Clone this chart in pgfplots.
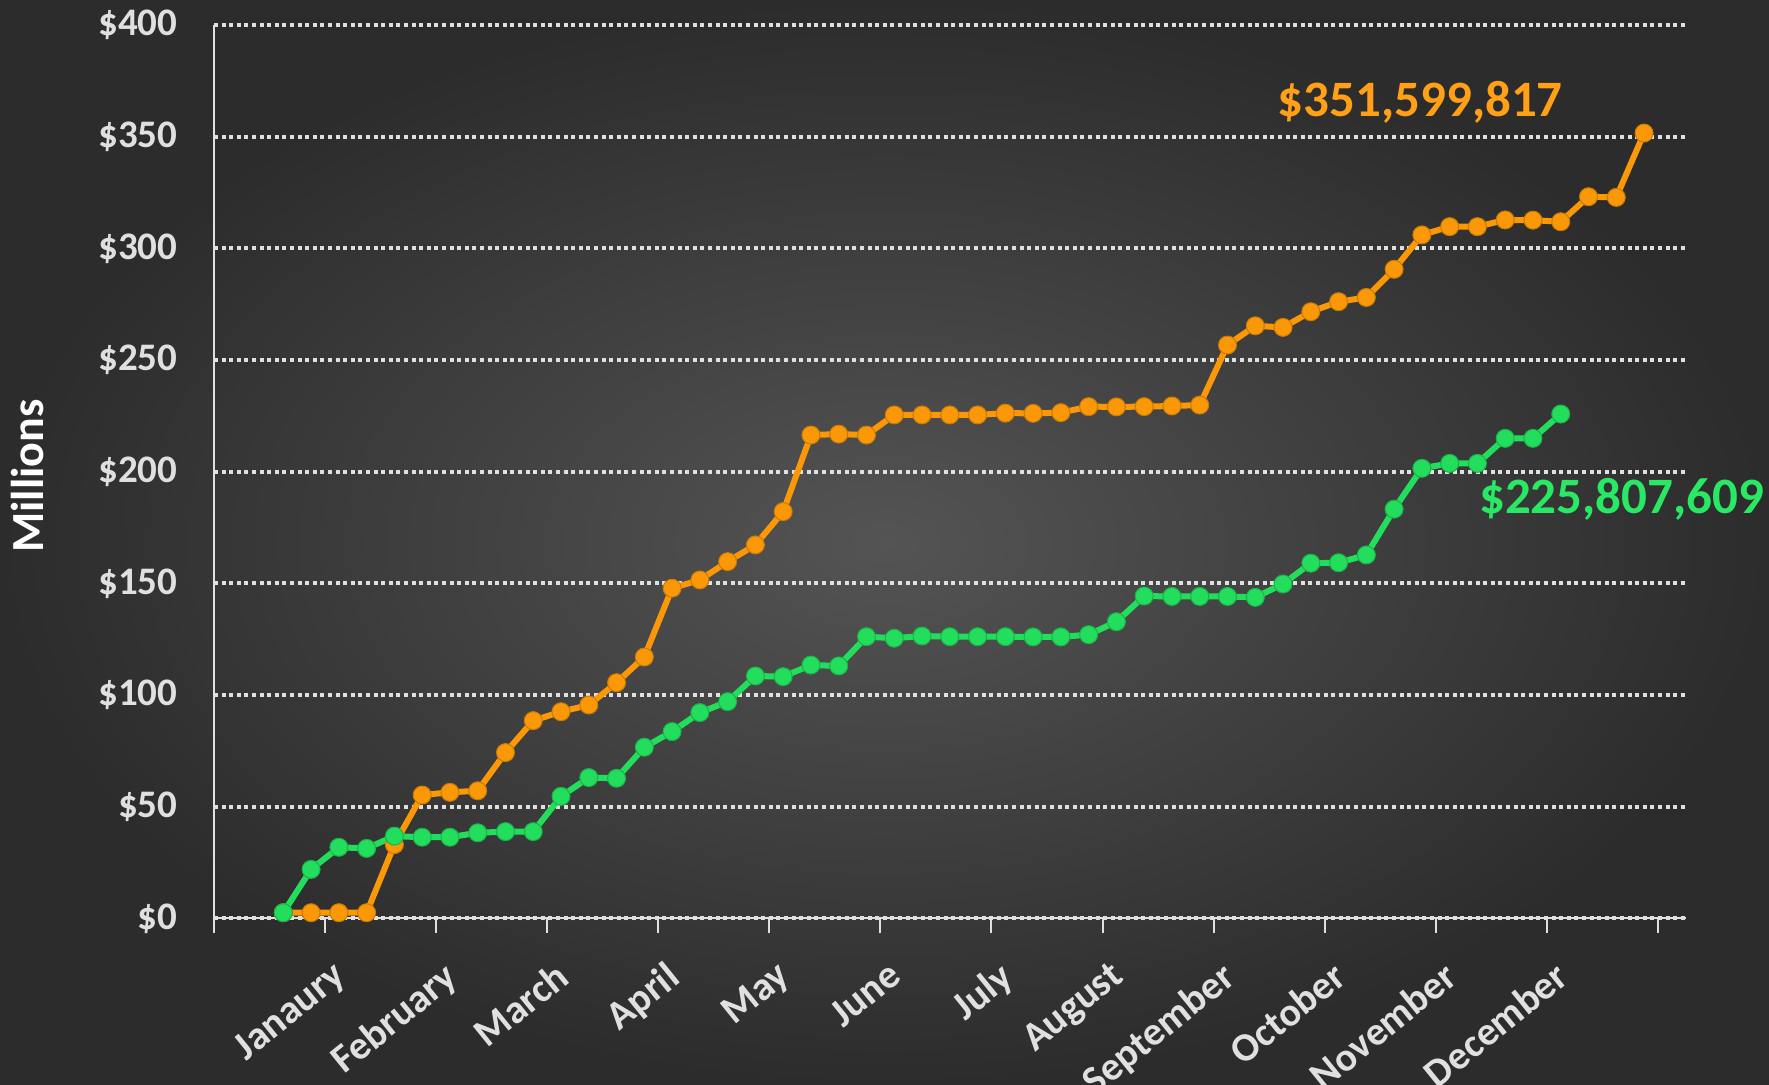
\documentclass[border=0pt]{standalone}
\usepackage{pgfplots}
\pgfplotsset{compat=1.18}
\usepackage{fontspec}
\setmainfont{Carlito}
\definecolor{orangeC}{RGB}{250,152,8}
\definecolor{orangeL}{RGB}{255,160,22}
\definecolor{greenC}{RGB}{34,222,92}
\definecolor{greenL}{RGB}{40,232,100}
\definecolor{tickC}{RGB}{224,224,224}
\definecolor{bgIn}{RGB}{84,84,84}
\definecolor{bgOut}{RGB}{44,44,44}
\begin{document}
\begin{tikzpicture}
\useasboundingbox (0,0) rectangle (884.5pt,542.5pt);
\shade[inner color=bgIn, outer color=bgOut] (0,0) rectangle (884.5pt,542.5pt);
\node[rotate=90, font=\bfseries\fontsize{23}{25}\selectfont, text=white] at (14pt,304.5pt) {Millions};
\begin{axis}[
  at={(106.95pt,83.35pt)}, anchor=south west,
  scale only axis, width=735.9pt, height=446.65pt,
  xmin=-2.5, xmax=50.5, ymin=0, ymax=400,
  clip=false,
  axis x line*=bottom, axis y line*=left,
  axis line style={tickC, line width=1pt},
  xtick={-2.5,1.5,5.5,9.5,13.5,17.5,21.5,25.5,29.5,33.5,37.5,41.5,45.5,49.5},
  xticklabels={,Janaury,February,March,April,May,June,July,August,September,October,November,December,},
  xticklabel style={xshift=3pt, yshift=-13pt, rotate=39, anchor=north east, inner sep=0pt, text=tickC, font=\bfseries\fontsize{20}{21}\selectfont},
  ytick={0,50,100,150,200,250,300,350,400},
  yticklabels={\$0,\$50,\$100,\$150,\$200,\$250,\$300,\$350,\$400},
  yticklabel style={xshift=-10.5pt, anchor=east, inner sep=0pt, text=tickC, font=\bfseries\fontsize{19.5}{21}\selectfont},
  tick align=outside,
  major tick length=7.5pt,
  xtick style={tickC, line width=1pt},
  ytick style={draw=none},
  ymajorgrids,
  grid style={draw=tickC, line width=2.1pt, dash pattern=on 2pt off 1.8pt},
]
\addplot[orangeC, line width=3pt, line join=round, mark=*, mark size=4.5pt, mark options={fill=orangeC, draw=orangeC!80!black, line width=0.5pt}] coordinates {
(0,2.5) (1,2.5) (2,2.5) (3,2.5) (4,33) (5,55.2) (6,56.4) (7,57.1) (8,74.2) (9,88.5)
(10,92.5) (11,95.5) (12,105.5) (13,117) (14,147.8) (15,151.5) (16,159.7) (17,167.2) (18,182.1) (19,216.4)
(20,216.8) (21,216.4) (22,225.4) (23,225.4) (24,225.4) (25,225.4) (26,226.2) (27,226.1) (28,226.4) (29,229.1)
(30,229.0) (31,229.1) (32,229.4) (33,229.8) (34,256.7) (35,265.3) (36,264.6) (37,271.6) (38,276.1) (39,278.0)
(40,290.6) (41,306.0) (42,309.7) (43,309.7) (44,312.7) (45,312.6) (46,311.9) (47,323.1) (48,322.8) (49,351.6)
};
\addplot[greenC, line width=3pt, line join=round, mark=*, mark size=4.5pt, mark options={fill=greenC, draw=greenC!80!black, line width=0.5pt}] coordinates {
(0,2.5) (1,21.9) (2,31.8) (3,31.3) (4,36.8) (5,36.3) (6,36.3) (7,38.3) (8,38.8) (9,38.8)
(10,54.6) (11,63.0) (12,62.7) (13,76.6) (14,83.6) (15,92.1) (16,97.0) (17,108.5) (18,108.2) (19,113.4)
(20,113.0) (21,126.1) (22,125.4) (23,126.4) (24,126.1) (25,126.1) (26,126.1) (27,126.0) (28,126.0) (29,127.0)
(30,132.8) (31,144.3) (32,144.1) (33,144.1) (34,144.1) (35,143.7) (36,149.7) (37,159.0) (38,159.2) (39,162.7)
(40,183.2) (41,201.5) (42,203.7) (43,203.7) (44,214.9) (45,214.9) (46,225.8)
};
\node[anchor=base west, inner sep=0pt, text=orangeL, font=\bfseries\fontsize{25.5}{27}\selectfont] at (axis cs:35.8,358.9) {\$351,599,817};
\node[anchor=base west, inner sep=0pt, text=greenL, font=\bfseries\fontsize{25.5}{27}\selectfont] at (axis cs:43.05,181.3) {\$225,807,609};
\end{axis}
\end{tikzpicture}
\end{document}
